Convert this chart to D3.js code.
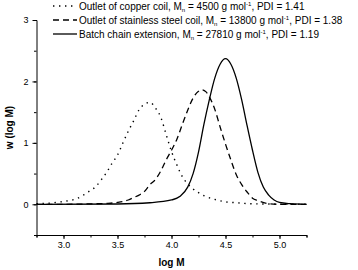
<!DOCTYPE html>
<html lang="en">
<head>
  <meta charset="UTF-8" />
  <title>GPC traces</title>
  <script src="https://d3js.org/d3.v7.min.js"></script>
  <style>
    body { margin: 0; background: #fff; }
    svg { display: block; font-family: "Liberation Sans", Arial, sans-serif; }
    .axis path, .axis line { stroke: #000; stroke-width: 1; }
    .axis text { font-size: 9px; fill: #000; }
  </style>
</head>
<body>
  <svg id="chart" width="358" height="270"></svg>

  <script>
    // values
    const copperLogM = [2.75, 2.85, 2.95, 3.05, 3.12, 3.18, 3.24, 3.30, 3.35, 3.40, 3.45, 3.50, 3.55, 3.60, 3.65, 3.70, 3.75, 3.80, 3.85, 3.90, 3.95, 4.00, 4.05, 4.10, 4.15, 4.20, 4.30, 4.40, 4.50, 4.60, 4.70, 4.85, 5.00, 5.25];
    const copperW = [0.01, 0.015, 0.035, 0.06, 0.09, 0.145, 0.215, 0.29, 0.40, 0.52, 0.67, 0.80, 1.00, 1.19, 1.36, 1.54, 1.63, 1.66, 1.57, 1.42, 1.14, 0.86, 0.64, 0.45, 0.33, 0.25, 0.14, 0.08, 0.04, 0.025, 0.012, 0.005, 0.003, 0.0];

    const steelLogM = [2.75, 3.00, 3.20, 3.40, 3.50, 3.60, 3.65, 3.70, 3.75, 3.80, 3.85, 3.90, 3.95, 4.00, 4.05, 4.10, 4.15, 4.20, 4.25, 4.28, 4.32, 4.35, 4.40, 4.45, 4.50, 4.55, 4.60, 4.65, 4.70, 4.75, 4.80, 4.90, 5.00, 5.25];
    const steelW = [0.0, 0.0, 0.005, 0.015, 0.03, 0.07, 0.11, 0.15, 0.21, 0.32, 0.40, 0.54, 0.72, 0.88, 1.06, 1.30, 1.53, 1.73, 1.84, 1.865, 1.83, 1.75, 1.55, 1.26, 0.98, 0.72, 0.48, 0.32, 0.20, 0.10, 0.06, 0.01, 0.0, 0.0];

    const batchLogM = [2.75, 3.50, 3.80, 4.00, 4.08, 4.15, 4.20, 4.25, 4.30, 4.35, 4.40, 4.45, 4.50, 4.55, 4.60, 4.65, 4.70, 4.75, 4.80, 4.85, 4.90, 4.95, 5.00, 5.10, 5.25];
    const batchW = [0.0, 0.005, 0.025, 0.07, 0.13, 0.28, 0.50, 0.85, 1.30, 1.70, 2.05, 2.28, 2.37, 2.28, 2.05, 1.70, 1.28, 0.88, 0.52, 0.28, 0.15, 0.07, 0.03, 0.01, 0.0];

    const xTicks = [3.0, 3.5, 4.0, 4.5, 5.0];
    const yTicks = [0, 1, 2, 3];

    const series = [
      { name: "Outlet of copper coil", mn: "4500", pdi: "1.41", x: copperLogM, y: copperW, dash: "1.4,4.6", w: 1.4 },
      { name: "Outlet of stainless steel coil", mn: "13800", pdi: "1.38", x: steelLogM, y: steelW, dash: "6,4", w: 1.3 },
      { name: "Batch chain extension", mn: "27810", pdi: "1.19", x: batchLogM, y: batchW, dash: null, w: 1.3 }
    ];

    const svg = d3.select("#chart");
    const margin = { left: 36.5, right: 51.5, top: 20, bottom: 35 };
    const width = 358 - margin.left - margin.right,
      height = 270 - margin.top - margin.bottom;

    const g = svg.append("g").attr("transform", `translate(${margin.left},${margin.top})`);

    const x = d3.scaleLinear().domain([2.75, 5.25]).range([0, width]);
    const y = d3.scaleLinear().domain([-0.5, 3]).range([height, 0]);

    // minor ticks first, then major ticks with labels
    g.append("g")
      .attr("class", "axis")
      .attr("transform", `translate(0,${height})`)
      .call(d3.axisBottom(x).tickValues(d3.range(2.75, 5.3, 0.25)).tickSize(2.5).tickFormat(""));
    g.append("g")
      .attr("class", "axis")
      .attr("transform", `translate(0,${height})`)
      .call(d3.axisBottom(x).tickValues(xTicks).tickSize(4).tickPadding(3).tickFormat(d3.format(".1f")))
      .call((a) => a.select(".domain").remove());

    g.append("g")
      .attr("class", "axis")
      .call(d3.axisLeft(y).tickValues(d3.range(-0.5, 3.1, 0.5)).tickSize(2.5).tickFormat(""));
    g.append("g")
      .attr("class", "axis")
      .call(d3.axisLeft(y).tickValues(yTicks).tickSize(4).tickPadding(4).tickFormat(d3.format("d")))
      .call((a) => a.select(".domain").remove());

    // axis titles
    svg.append("text")
      .attr("x", margin.left + x(4.0))
      .attr("y", 266)
      .attr("text-anchor", "middle")
      .style("font-size", "10px")
      .style("font-weight", "bold")
      .text("log M");

    svg.append("text")
      .attr("transform", `translate(13,${margin.top + y(1.25)}) rotate(-90)`)
      .attr("text-anchor", "middle")
      .style("font-size", "10px")
      .style("font-weight", "bold")
      .text("w (log M)");

    // curves
    const line = d3.line()
      .x((d) => x(d[0]))
      .y((d) => y(d[1]))
      .curve(d3.curveMonotoneX);

    series.forEach((s) => {
      g.append("path")
        .datum(d3.zip(s.x, s.y))
        .attr("fill", "none")
        .attr("stroke", "#000")
        .attr("stroke-width", s.w)
        .attr("stroke-dasharray", s.dash)
        .attr("d", line);
    });

    // legend
    const legend = svg.append("g").attr("transform", "translate(53,6)");
    series.forEach((s, i) => {
      const row = legend.append("g").attr("transform", `translate(0,${i * 14})`);
      row.append("line")
        .attr("x1", 0).attr("x2", 24)
        .attr("y1", 0).attr("y2", 0)
        .attr("stroke", "#000")
        .attr("stroke-width", s.w)
        .attr("stroke-dasharray", s.dash);
      const t = row.append("text")
        .attr("x", 26)
        .attr("y", 3.5)
        .style("font-size", "10px");
      t.append("tspan").text(`${s.name}, M`);
      t.append("tspan").attr("dy", 2.5).style("font-size", "6px").text("n");
      t.append("tspan").attr("dy", -2.5).text(` = ${s.mn} g mol`);
      t.append("tspan").attr("dy", -3.5).style("font-size", "6px").text("-1");
      t.append("tspan").attr("dy", 3.5).text(`, PDI = ${s.pdi}`);
    });
  </script>
</body>
</html>
